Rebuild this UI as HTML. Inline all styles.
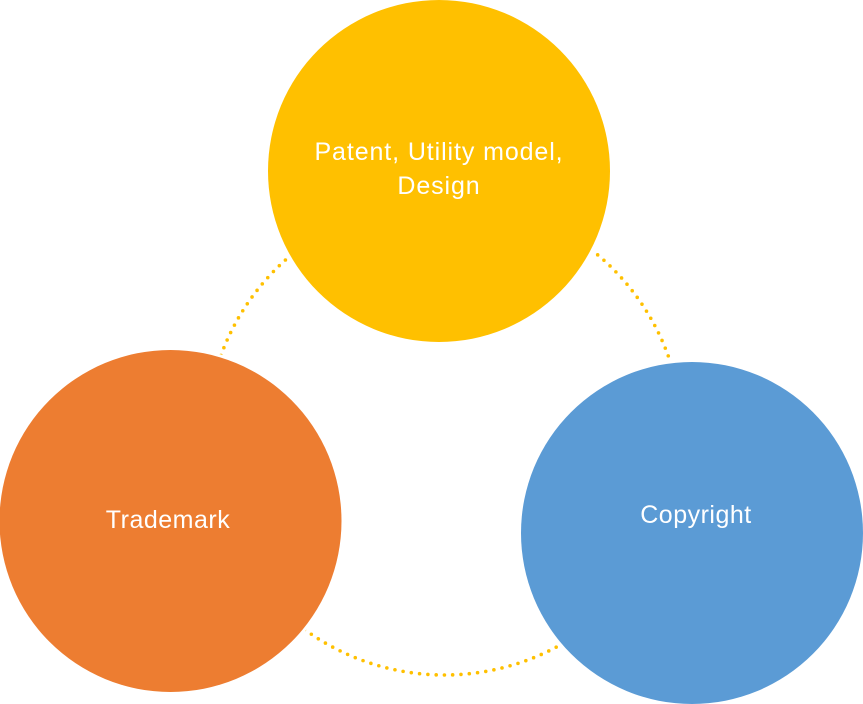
<!DOCTYPE html>
<html>
<head>
<meta charset="utf-8">
<style>
  html, body { margin: 0; padding: 0; background: #ffffff; }
  svg { display: block; }
  text { font-family: "Liberation Sans", "DejaVu Sans", sans-serif; font-size: 25px; fill: #ffffff; letter-spacing: 0.5px; }
  text.wide { letter-spacing: 0.9px; }
</style>
</head>
<body>
<svg width="863" height="704" viewBox="0 0 863 704" xmlns="http://www.w3.org/2000/svg">
  <!-- dotted cycle ring -->
  <circle cx="444.5" cy="437" r="238" fill="none" stroke="#FFC000" stroke-width="3.6" stroke-linecap="round" stroke-dasharray="0 8.308"/>
  <!-- white halos for gaps -->
  <circle cx="439" cy="171" r="174" fill="#ffffff"/>
  <circle cx="170.5" cy="521" r="174" fill="#ffffff"/>
  <circle cx="692" cy="533" r="174" fill="#ffffff"/>
  <!-- nodes -->
  <circle cx="439" cy="171" r="171" fill="#FFC000"/>
  <circle cx="170.5" cy="521" r="171" fill="#ED7D31"/>
  <circle cx="692" cy="533" r="171" fill="#5B9BD5"/>
  <!-- labels -->
  <text class="wide" x="439" y="160" text-anchor="middle">Patent, Utility model,</text>
  <text class="wide" x="439" y="194" text-anchor="middle">Design</text>
  <text x="168" y="528" text-anchor="middle">Trademark</text>
  <text x="696" y="523" text-anchor="middle">Copyright</text>
</svg>
</body>
</html>
